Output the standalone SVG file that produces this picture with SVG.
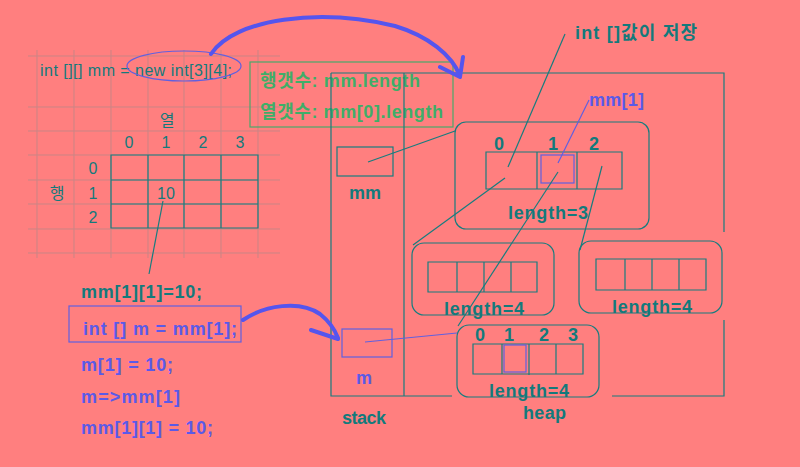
<svg xmlns="http://www.w3.org/2000/svg" width="800" height="467" viewBox="0 0 800 467">
<defs>
<style>
.bg{fill:#ff7f7f}
.grid{stroke:#c98585;stroke-width:1;fill:none}
.tl{stroke:#167d7f;stroke-width:1.2;fill:none}
.bl{stroke:#6060e0;stroke-width:1.2;fill:none}
.gl{stroke:#4aa86a;stroke-width:1.2;fill:none}
.arrow{stroke:#5555ee;stroke-width:4;fill:none;stroke-linecap:round;stroke-linejoin:round}
text{font-family:"Liberation Sans","Noto Sans CJK KR",sans-serif}
.n{font-size:16px;fill:#137a7c}
.bt{font-size:18px;font-weight:bold;fill:#137a7c}
.bb{font-size:18px;font-weight:bold;fill:#5a5ae8}
.bg2{font-size:18px;font-weight:bold;fill:#3fae68}
.c{text-anchor:middle}
</style>
</defs>
<rect class="bg" x="0" y="0" width="800" height="467"/>

<g id="grid">
<path class="grid" d="M28 56H280M28 107H280M28 131H280M28 155H280M28 180H280M28 204H280M28 229H280M28 253H280
M37 50V258M74 50V258M111 50V258M148 50V258M184 50V258M221 50V258M258 50V258"/>
</g>

<g id="table">
<path class="tl" d="M111 155H258V228H111ZM111 180H258M111 204H258M148 155V228M184 155V228M221 155V228"/>
<text class="n c" x="167" y="126">열</text>
<text class="n c" x="129" y="148">0</text>
<text class="n c" x="166" y="148">1</text>
<text class="n c" x="203" y="148">2</text>
<text class="n c" x="240" y="148">3</text>
<text class="n c" x="93" y="174">0</text>
<text class="n c" x="93" y="199">1</text>
<text class="n c" x="93" y="223">2</text>
<text class="n c" x="57" y="199">행</text>
<text class="n c" x="166" y="199">10</text>
</g>

<g id="decl">
<text class="n" x="40" y="76" textLength="192" lengthAdjust="spacing">int [][] mm = new int[3][4];</text>
<ellipse cx="184" cy="66" rx="57" ry="15" class="bl" stroke-width="1"/>
</g>

<g id="lengthinfo">
<rect class="gl" x="250" y="62" width="203" height="65"/>
<text class="bg2" x="260" y="87" textLength="160" lengthAdjust="spacing">행갯수: mm.length</text>
<text class="bg2" x="260" y="118" textLength="183" lengthAdjust="spacing">열갯수: mm[0].length</text>
</g>

<g id="frame">
<path class="tl" d="M331 73H724V232M724 320V396H612M452 396H331V73M404 73V396"/>
<text class="bt" x="342" y="424" textLength="44" lengthAdjust="spacing">stack</text>
<text class="bt" x="523" y="419" textLength="43" lengthAdjust="spacing">heap</text>
</g>

<g id="mm">
<rect class="tl" x="337" y="147" width="56" height="29"/>
<text class="bt c" x="365" y="199">mm</text>
</g>

<g id="m">
<rect class="bl" x="342" y="329" width="50" height="28"/>
<text class="bb c" x="364" y="384">m</text>
</g>

<g id="rows">
<rect class="tl" x="455" y="122" width="194" height="107" rx="11"/>
<path class="tl" d="M486 152H622V189H486ZM537 152V189M577 152V189"/>
<rect class="bl" x="541" y="155" width="33" height="28"/>
<text class="bt c" x="499" y="150">0</text>
<text class="bt c" x="553" y="150">1</text>
<text class="bt c" x="594" y="150">2</text>
<text class="bt" x="508" y="219" textLength="80" lengthAdjust="spacing">length=3</text>
</g>

<g id="row0">
<rect class="tl" x="412" y="243" width="142" height="72" rx="12"/>
<path class="tl" d="M428 262H537V292H428ZM457 262V292M484 262V292M511 262V292"/>
<text class="bt" x="444" y="315" textLength="80" lengthAdjust="spacing">length=4</text>
</g>

<g id="row2">
<rect class="tl" x="579" y="241" width="143" height="72" rx="12"/>
<path class="tl" d="M596 259H706V290H596ZM625 259V290M652 259V290M679 259V290"/>
<text class="bt" x="612" y="313" textLength="80" lengthAdjust="spacing">length=4</text>
</g>

<g id="row1">
<rect class="tl" x="457" y="325" width="142" height="72" rx="12"/>
<path class="tl" d="M473 344H583V374H473ZM502 344V374M529 344V375M556 344V374"/>
<rect class="bl" x="504" y="345" width="22" height="27"/>
<text class="bt c" x="480" y="341">0</text>
<text class="bt c" x="509" y="341">1</text>
<text class="bt c" x="544" y="341">2</text>
<text class="bt c" x="573" y="341">3</text>
<text class="bt" x="489" y="397" textLength="80" lengthAdjust="spacing">length=4</text>
</g>

<g id="notes">
<text class="bt" x="575" y="39" textLength="122" lengthAdjust="spacing">int []값이 저장</text>
<text class="bb" x="589" y="106" textLength="55" lengthAdjust="spacing" font-size="17">mm[1]</text>
</g>

<g id="code">
<text class="bt" x="81" y="298" textLength="121" lengthAdjust="spacing">mm[1][1]=10;</text>
<rect class="bl" x="69" y="306" width="172" height="36"/>
<text class="bb" x="83" y="335" textLength="154" lengthAdjust="spacing">int [] m = mm[1];</text>
<text class="bb" x="81" y="371" textLength="92" lengthAdjust="spacing">m[1] = 10;</text>
<text class="bb" x="81" y="403" textLength="99" lengthAdjust="spacing">m=&gt;mm[1]</text>
<text class="bb" x="81" y="434" textLength="132" lengthAdjust="spacing">mm[1][1] = 10;</text>
</g>

<g id="connectors">
<path class="tl" d="M368 162L455 131"/>
<path class="tl" d="M565 34L508 167"/>
<path class="bl" d="M589 100L558 163"/>
<path class="tl" d="M505 178L413 245"/>
<path class="tl" d="M558 172L458 326"/>
<path class="tl" d="M602 166L580 250"/>
<path class="bl" d="M365 342L457 333"/>
<path class="tl" d="M163 201L149 274"/>
<path class="arrow" d="M211 54C235 18 320 8 395 26C428 36 452 55 460 76M440 67L460 77L463 57"/>
<path class="arrow" d="M243 320C265 305 300 300 320 314C330 322 335 330 338 338M311 330L338 339"/>
</g>
</svg>
